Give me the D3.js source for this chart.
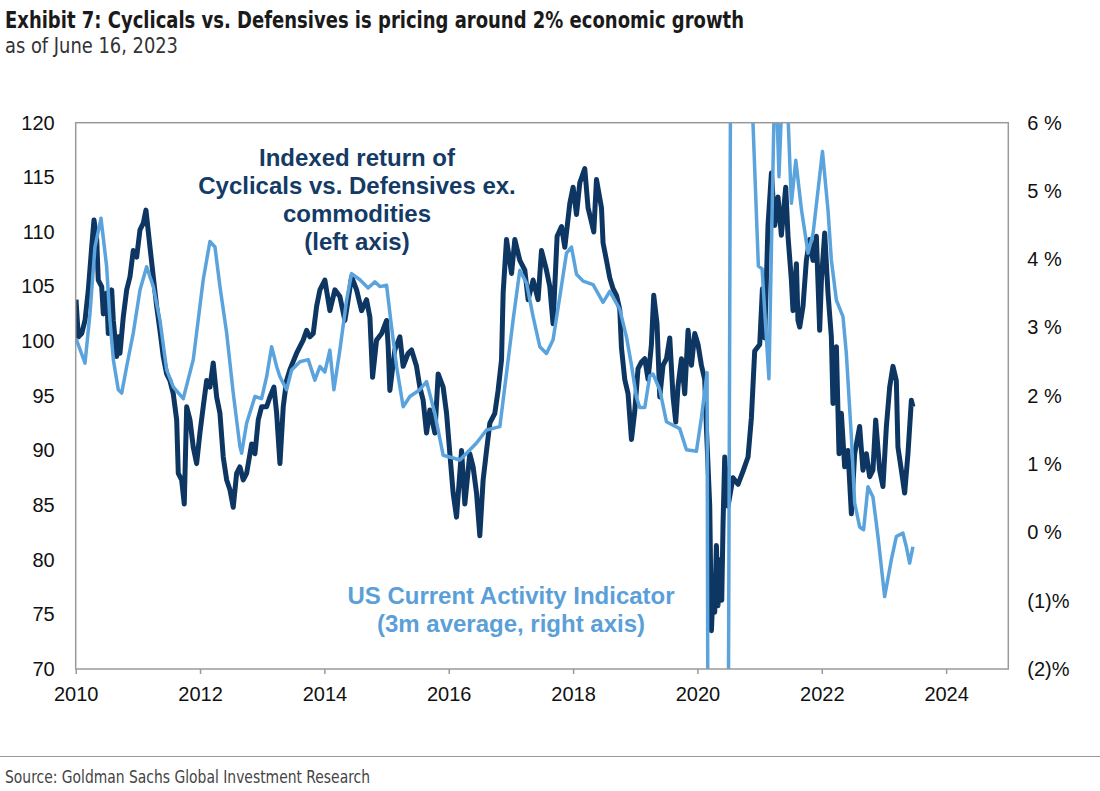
<!DOCTYPE html>
<html>
<head>
<meta charset="utf-8">
<script src="https://cdn.jsdelivr.net/npm/d3@7"></script>
<style>
  body { margin: 0; background: #fff; }
  svg { display: block; font-family: "Liberation Sans", Arial, sans-serif; }
  .narrow { font-family: "Liberation Sans Narrow", "Arial Narrow", "DejaVu Sans Condensed", sans-serif; font-stretch: condensed; }
</style>
</head>
<body>
<svg width="1100" height="791"></svg>
<script>
// Cyclicals vs. Defensives ex. commodities, indexed (left axis)
const cycYear = [
  2010.005, 2010.042, 2010.096, 2010.150, 2010.203, 2010.257, 2010.294, 2010.338, 2010.363, 2010.418,
  2010.444, 2010.498, 2010.524, 2010.579, 2010.605, 2010.659, 2010.685, 2010.712, 2010.765, 2010.820,
  2010.873, 2010.926, 2010.981, 2011.034, 2011.087, 2011.130, 2011.195, 2011.248, 2011.302, 2011.355,
  2011.408, 2011.463, 2011.516, 2011.569, 2011.624, 2011.650, 2011.704, 2011.746, 2011.785, 2011.838,
  2011.891, 2011.945, 2011.998, 2012.051, 2012.106, 2012.159, 2012.212, 2012.267, 2012.320, 2012.373,
  2012.428, 2012.481, 2012.534, 2012.588, 2012.641, 2012.695, 2012.749, 2012.830, 2012.883, 2012.936,
  2012.990, 2013.071, 2013.124, 2013.188, 2013.232, 2013.285, 2013.338, 2013.392, 2013.445, 2013.553,
  2013.606, 2013.659, 2013.714, 2013.767, 2013.820, 2013.875, 2013.928, 2014.008, 2014.088, 2014.169,
  2014.249, 2014.330, 2014.383, 2014.437, 2014.518, 2014.598, 2014.678, 2014.732, 2014.775, 2014.839,
  2014.920, 2015.000, 2015.026, 2015.053, 2015.133, 2015.214, 2015.267, 2015.347, 2015.402, 2015.482,
  2015.535, 2015.588, 2015.643, 2015.696, 2015.777, 2015.830, 2015.910, 2015.965, 2016.018, 2016.071,
  2016.125, 2016.206, 2016.259, 2016.339, 2016.392, 2016.447, 2016.500, 2016.553, 2016.608, 2016.661,
  2016.741, 2016.794, 2016.849, 2016.875, 2016.929, 2017.010, 2017.063, 2017.143, 2017.224, 2017.277,
  2017.357, 2017.437, 2017.492, 2017.572, 2017.625, 2017.678, 2017.743, 2017.814, 2017.867, 2017.947,
  2018.000, 2018.055, 2018.108, 2018.188, 2018.241, 2018.296, 2018.333, 2018.376, 2018.457, 2018.482,
  2018.537, 2018.590, 2018.643, 2018.698, 2018.751, 2018.778, 2018.831, 2018.884, 2018.939, 2018.992,
  2019.045, 2019.100, 2019.153, 2019.206, 2019.260, 2019.297, 2019.350, 2019.394, 2019.447, 2019.502,
  2019.555, 2019.608, 2019.651, 2019.688, 2019.743, 2019.796, 2019.849, 2019.904, 2019.957, 2020.010,
  2020.064, 2020.117, 2020.145, 2020.198, 2020.225, 2020.251, 2020.278, 2020.305, 2020.331, 2020.358,
  2020.391, 2020.412, 2020.439, 2020.492, 2020.572, 2020.653, 2020.733, 2020.814, 2020.868, 2020.921,
  2021.002, 2021.045, 2021.082, 2021.135, 2021.190, 2021.243, 2021.296, 2021.350, 2021.420, 2021.457,
  2021.511, 2021.537, 2021.592, 2021.617, 2021.645, 2021.698, 2021.752, 2021.805, 2021.859, 2021.913,
  2021.966, 2021.994, 2022.047, 2022.100, 2022.154, 2022.180, 2022.235, 2022.277, 2022.315, 2022.368,
  2022.421, 2022.476, 2022.529, 2022.609, 2022.662, 2022.717, 2022.770, 2022.823, 2022.867, 2022.931,
  2022.984, 2023.039, 2023.092, 2023.145, 2023.199, 2023.225, 2023.280, 2023.333, 2023.386, 2023.441,
  2023.466
]
const cycIndex = [
  103.8, 100.4, 100.7, 101.9, 104.7, 108.6, 111.1, 109.3, 105.6, 105.0,
  102.5, 104.4, 100.7, 104.7, 101.9, 98.6, 100.4, 98.9, 102.2, 104.7,
  105.9, 108.3, 107.7, 110.2, 110.8, 112.0, 108.6, 105.9, 103.2, 101.0,
  98.6, 97.0, 96.4, 95.2, 92.8, 87.9, 87.3, 85.1, 94.0, 92.8,
  90.3, 88.8, 91.6, 94.0, 96.4, 95.8, 98.0, 94.9, 93.4, 89.4,
  87.3, 86.4, 84.8, 87.9, 88.5, 87.3, 87.9, 90.6, 89.7, 92.8,
  94.0, 94.0, 94.9, 95.8, 93.4, 88.8, 94.0, 96.4, 97.4, 98.9,
  99.5, 100.1, 101.0, 100.4, 100.7, 103.2, 104.7, 105.6, 102.8, 104.7,
  104.1, 101.9, 103.8, 105.9, 104.7, 102.8, 103.8, 102.2, 96.7, 100.1,
  100.7, 101.9, 99.5, 95.5, 99.2, 100.4, 97.7, 98.9, 99.2, 97.7,
  95.8, 94.6, 91.6, 93.7, 91.6, 97.0, 95.8, 93.4, 89.7, 86.1,
  83.9, 90.0, 85.1, 89.7, 88.5, 86.1, 82.2, 87.3, 90.0, 92.5,
  93.4, 95.5, 98.3, 104.4, 109.3, 106.2, 109.3, 107.4, 106.5, 103.8,
  105.6, 103.8, 108.3, 106.5, 105.0, 101.6, 109.6, 110.5, 108.6, 112.6,
  114.1, 111.6, 114.5, 115.8, 112.2, 110.9, 110.0, 114.8, 112.2, 109.0,
  107.4, 105.8, 104.8, 104.2, 102.9, 99.4, 96.5, 95.2, 91.0, 93.6,
  97.5, 98.1, 98.4, 96.5, 99.7, 104.2, 101.6, 94.9, 97.8, 98.4,
  100.3, 94.9, 92.6, 95.9, 98.4, 95.2, 101.0, 97.8, 100.7, 99.7,
  97.8, 96.5, 92.0, 84.9, 73.5, 77.2, 75.2, 81.3, 75.8, 80.0,
  76.3, 83.3, 89.4, 84.9, 87.5, 86.9, 88.1, 89.4, 93.0, 99.1,
  99.7, 104.8, 100.3, 110.6, 115.4, 110.6, 113.2, 109.7, 114.1, 109.6,
  105.6, 102.8, 107.1, 101.9, 101.3, 103.2, 107.4, 109.3, 107.4, 109.6,
  101.0, 105.6, 109.9, 104.4, 100.4, 94.3, 99.5, 89.7, 93.4, 88.5,
  90.0, 84.2, 89.7, 92.2, 88.2, 89.7, 87.6, 88.2, 92.8, 88.2,
  86.7, 92.2, 95.8, 97.7, 96.4, 90.3, 88.2, 86.1, 89.7, 94.6,
  94.0
]

// US Current Activity Indicator, 3m average, % (right axis); 2020 values run off the chart
const caiYear = [
  2010.005, 2010.150, 2010.230, 2010.310, 2010.407, 2010.498, 2010.551, 2010.605, 2010.685, 2010.740,
  2010.820, 2010.926, 2011.034, 2011.141, 2011.248, 2011.355, 2011.463, 2011.569, 2011.730, 2011.891,
  2012.051, 2012.159, 2012.240, 2012.320, 2012.428, 2012.534, 2012.641, 2012.669, 2012.749, 2012.883,
  2012.990, 2013.071, 2013.151, 2013.232, 2013.285, 2013.392, 2013.473, 2013.606, 2013.740, 2013.847,
  2013.928, 2014.008, 2014.088, 2014.153, 2014.249, 2014.357, 2014.437, 2014.571, 2014.704, 2014.812,
  2014.892, 2015.000, 2015.080, 2015.161, 2015.267, 2015.375, 2015.535, 2015.643, 2015.777, 2015.910,
  2016.071, 2016.178, 2016.286, 2016.447, 2016.608, 2016.822, 2016.929, 2017.035, 2017.143, 2017.251,
  2017.357, 2017.465, 2017.572, 2017.678, 2017.786, 2017.894, 2017.974, 2018.055, 2018.161, 2018.322,
  2018.482, 2018.590, 2018.751, 2018.859, 2018.939, 2019.019, 2019.072, 2019.153, 2019.233, 2019.286,
  2019.394, 2019.502, 2019.608, 2019.715, 2019.823, 2019.984, 2020.064, 2020.155, 2020.190, 2020.280,
  2020.380, 2020.470, 2020.560, 2020.660, 2020.760, 2020.860, 2020.980, 2021.040, 2021.150, 2021.250,
  2021.312, 2021.376, 2021.440, 2021.511, 2021.582, 2021.674, 2021.779, 2021.860, 2022.011, 2022.100,
  2022.154, 2022.235, 2022.341, 2022.395, 2022.476, 2022.529, 2022.609, 2022.673, 2022.743, 2022.823,
  2022.904, 2023.011, 2023.119, 2023.199, 2023.305, 2023.360, 2023.413, 2023.466
]
const caiPct = [
  2.84, 2.48, 3.21, 4.18, 4.60, 3.89, 3.11, 2.53, 2.09, 2.04,
  2.43, 2.92, 3.55, 3.89, 3.60, 3.11, 2.38, 2.13, 1.96, 2.53,
  3.70, 4.26, 4.18, 3.60, 2.92, 2.04, 1.26, 1.16, 1.60, 1.99,
  1.96, 2.28, 2.72, 2.43, 2.28, 2.09, 2.38, 2.50, 2.53, 2.23,
  2.43, 2.35, 2.67, 2.09, 2.67, 3.40, 3.79, 3.70, 3.58, 3.67,
  3.60, 3.62, 3.01, 2.43, 1.84, 1.99, 2.09, 2.21, 1.74, 1.13,
  1.09, 1.06, 1.16, 1.31, 1.50, 1.55, 2.33, 3.11, 3.84, 3.65,
  3.16, 2.72, 2.62, 2.82, 3.45, 4.09, 4.18, 3.78, 3.68, 3.63,
  3.37, 3.53, 3.27, 2.86, 2.45, 1.98, 1.83, 1.83, 2.29, 2.32,
  2.09, 1.62, 1.57, 1.52, 1.21, 1.19, 1.68, 2.34, -12.0, -15.0,
  -13.0, -10.0, 14.0, 12.0, 10.0, 6.8, 3.90, 3.86, 2.25, 7.0,
  5.21, 6.8, 6.5, 4.82, 5.45, 4.72, 4.09, 4.38, 5.58, 4.72,
  3.99, 3.40, 3.16, 2.62, 1.40, 0.43, 0.08, 0.04, 0.67, 0.52,
  -0.06, -0.94, -0.40, -0.06, -0.01, -0.21, -0.45, -0.21
]

const xTicks = [2010, 2012, 2014, 2016, 2018, 2020, 2022, 2024]
const leftTicks = [70, 75, 80, 85, 90, 95, 100, 105, 110, 115, 120]
const rightTicks = [-2, -1, 0, 1, 2, 3, 4, 5, 6]

const svg = d3.select('svg')
const plot = { left: 75.7, right: 1008.3, top: 122.7, bottom: 669 }

const xScale = d3.scaleLinear().domain([2010, 2025]).range([plot.left, plot.right])
const yLeft = d3.scaleLinear().domain([70, 120]).range([plot.bottom, plot.top])
const yRight = d3.scaleLinear().domain([-2, 6]).range([plot.bottom, plot.top])

// titles
svg.append('text')
    .attr('class', 'narrow')
    .attr('x', 5).attr('y', 28)
    .attr('font-size', 23).attr('font-weight', 'bold').attr('fill', '#1a1a1a')
    .attr('textLength', 739).attr('lengthAdjust', 'spacingAndGlyphs')
    .text('Exhibit 7: Cyclicals vs. Defensives is pricing around 2% economic growth')
svg.append('text')
    .attr('class', 'narrow')
    .attr('x', 5).attr('y', 53)
    .attr('font-size', 21).attr('fill', '#333')
    .attr('textLength', 173).attr('lengthAdjust', 'spacingAndGlyphs')
    .text('as of June 16, 2023')

// clip so the 2020 swings run off the frame
svg.append('clipPath').attr('id', 'plotclip')
    .append('rect')
    .attr('x', plot.left).attr('y', plot.top)
    .attr('width', plot.right - plot.left).attr('height', plot.bottom - plot.top)

const cyc = cycYear.map((y, i) => ({ x: y, v: cycIndex[i] }))
const cai = caiYear.map((y, i) => ({ x: y, v: caiPct[i] }))

const lines = svg.append('g').attr('clip-path', 'url(#plotclip)')
lines.append('path')
    .datum(cyc)
    .attr('fill', 'none')
    .attr('stroke', '#0d3663')
    .attr('stroke-width', 5)
    .attr('stroke-linejoin', 'round')
    .attr('d', d3.line().x(d => xScale(d.x)).y(d => yLeft(d.v)))
lines.append('path')
    .datum(cai)
    .attr('fill', 'none')
    .attr('stroke', '#5aa3dc')
    .attr('stroke-width', 3.5)
    .attr('stroke-linejoin', 'round')
    .attr('d', d3.line().x(d => xScale(d.x)).y(d => yRight(d.v)))

// frame
svg.append('rect')
    .attr('x', plot.left).attr('y', plot.top)
    .attr('width', plot.right - plot.left).attr('height', plot.bottom - plot.top)
    .attr('fill', 'none').attr('stroke', '#9a9a9a').attr('stroke-width', 1.5)

// axes
const xAxis = svg.append('g')
    .attr('transform', `translate(0,${plot.bottom})`)
    .call(d3.axisBottom(xScale).tickValues(xTicks).tickFormat(d3.format('d')).tickSize(5).tickPadding(13))
const lAxis = svg.append('g')
    .attr('transform', `translate(${plot.left},0)`)
    .call(d3.axisLeft(yLeft).tickValues(leftTicks).tickSize(0).tickPadding(21))
const rAxis = svg.append('g')
    .attr('transform', `translate(${plot.right},0)`)
    .call(d3.axisRight(yRight).tickValues(rightTicks).tickSize(0).tickPadding(19)
        .tickFormat(v => v < 0 ? `(${-v})%` : `${v} %`))

;[xAxis, lAxis, rAxis].forEach(a => {
    a.select('.domain').remove()
    a.selectAll('text')
        .attr('font-family', '"Liberation Sans", Arial, sans-serif')
        .attr('font-size', 20).attr('fill', '#111')
    a.selectAll('line').attr('stroke', '#9a9a9a').attr('stroke-width', 1.5)
})

// series labels
const darkLabel = ['Indexed return of', 'Cyclicals vs. Defensives ex.', 'commodities', '(left axis)']
svg.append('g').selectAll('text')
    .data(darkLabel)
    .enter().append('text')
    .attr('x', 357)
    .attr('y', (d, i) => 165.5 + i * 28)
    .attr('text-anchor', 'middle')
    .attr('font-size', 24).attr('font-weight', 'bold')
    .attr('fill', '#143a66')
    .text(d => d)

const lightLabel = ['US Current Activity Indicator', '(3m average, right axis)']
svg.append('g').selectAll('text')
    .data(lightLabel)
    .enter().append('text')
    .attr('x', 511)
    .attr('y', (d, i) => 603.5 + i * 28)
    .attr('text-anchor', 'middle')
    .attr('font-size', 24).attr('font-weight', 'bold')
    .attr('fill', '#5b9fd8')
    .text(d => d)

// source
svg.append('line')
    .attr('x1', 0).attr('x2', 1100)
    .attr('y1', 756.5).attr('y2', 756.5)
    .attr('stroke', '#999').attr('stroke-width', 1)
svg.append('text')
    .attr('class', 'narrow')
    .attr('x', 5).attr('y', 783)
    .attr('font-size', 17).attr('fill', '#444')
    .attr('textLength', 365).attr('lengthAdjust', 'spacingAndGlyphs')
    .text('Source: Goldman Sachs Global Investment Research')
</script>
</body>
</html>
